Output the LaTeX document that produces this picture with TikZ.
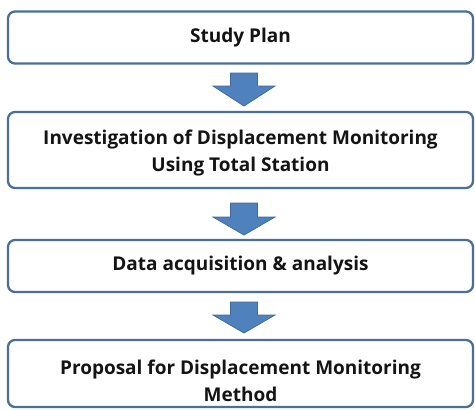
\documentclass[tikz,border=0pt]{standalone}
\usepackage{fontspec}
\setmainfont{Open Sans}
\definecolor{boxblue}{HTML}{4A709A}
\definecolor{arrowfill}{HTML}{4F81BD}
\definecolor{arrowedge}{HTML}{3F6A9C}
\definecolor{txtcol}{HTML}{141414}
\newcommand{\blockarr}[3]{%
  \draw[blockarrow] (230.5,#1) -- (257.5,#1) -- (257.5,#2) -- (275,#2) -- (244,#3)
    -- (213,#2) -- (230.5,#2) -- cycle;}
\begin{document}
\begin{tikzpicture}[x=1pt,y=-1pt]
\tikzset{
  box/.style={draw=boxblue, line width=2.3pt, rounded corners=7pt, fill=white,
    minimum width=465pt, inner sep=0pt},
  txt/.style={font=\bfseries\fontsize{19}{27}\selectfont, text=txtcol, align=center, inner sep=0pt},
  blockarrow/.style={fill=arrowfill, draw=arrowedge, line width=0.8pt, line join=miter}
}
\fill[white] (0,0) rectangle (475,410);
\useasboundingbox (0,0) rectangle (475,410);
% boxes
\node[box, minimum height=52pt] (b1) at (240.5,37.5) {};
\node[box, minimum height=76pt] (b2) at (240.5,150) {};
\node[box, minimum height=52pt] (b3) at (240.5,266) {};
\node[box, minimum height=67pt] (b4) at (240.5,373.5) {};
% texts
\node[txt] (t1) at (b1.center) {Study Plan};
\node[txt] (t2) at ([yshift=-3pt]b2.center) {Investigation of Displacement Monitoring\\Using Total Station};
\node[txt] (t3) at (b3.center) {Data acquisition \& analysis};
\node[txt] (t4) at ([yshift=-7pt]b4.center) {Proposal for Displacement Monitoring\\Method};
% block arrows
\blockarr{73}{86}{106}
\blockarr{203}{217}{235}
\blockarr{302}{315}{333}
\end{tikzpicture}
\end{document}
